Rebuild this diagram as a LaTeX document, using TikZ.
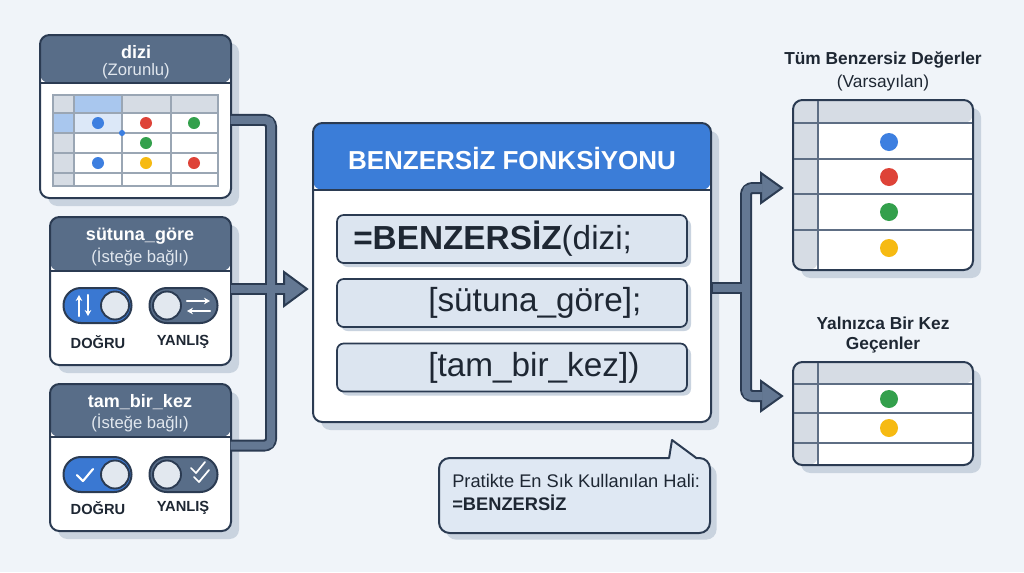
\documentclass[tikz,border=0pt]{standalone}
\usepackage{fontspec}
\setmainfont{Liberation Sans}
\usetikzlibrary{calc,arrows.meta}
\definecolor{bg}{HTML}{F0F4F9}
\definecolor{ink}{HTML}{2B3B52}
\definecolor{slate}{HTML}{586D88}
\definecolor{pipec}{HTML}{647893}
\definecolor{blueH}{HTML}{3B7DD8}
\definecolor{shad}{HTML}{C9D3DF}
\definecolor{rowfill}{HTML}{DCE5F0}
\definecolor{callfill}{HTML}{DFE8F3}
\definecolor{gcell}{HTML}{D6DCE4}
\definecolor{lcell}{HTML}{A9C7EE}
\definecolor{tcell}{HTML}{DCE8F8}
\definecolor{gline}{HTML}{9AA6B4}
\definecolor{vline}{HTML}{5E6E84}
\definecolor{knob}{HTML}{E2E8EF}
\definecolor{tgblue}{HTML}{3A78D2}
\definecolor{dBlue}{HTML}{3D7FE0}
\definecolor{dRed}{HTML}{DE4338}
\definecolor{dGreen}{HTML}{33A04C}
\definecolor{dYellow}{HTML}{F6BA12}
\definecolor{txt}{HTML}{1E2733}
\definecolor{subtxt}{HTML}{E1E7EE}
\newcommand\fsz[2]{\fontsize{#1}{#2}\selectfont}
\tikzset{
  shadowed/.style={preaction={fill=shad, transform canvas={shift={(#1,-#1)}}}},
  panel/.style n args={2}{draw=ink, line width=1.5pt, fill=white, rounded corners=7pt, shadowed=6pt, inner sep=0pt,
    path picture={\fill[#2] (path picture bounding box.north west) rectangle ([yshift=-#1]path picture bounding box.north east);
      \draw[ink, line width=1.5pt] ([yshift=-#1]path picture bounding box.north west) -- ([yshift=-#1]path picture bounding box.north east);}},
  tablebox/.style={draw=ink, line width=1.5pt, fill=white, rounded corners=7pt, shadowed=6pt, inner sep=0pt,
    path picture={\fill[gcell] (path picture bounding box.north west) rectangle ([yshift=-#1]path picture bounding box.north east);
      \fill[gcell] (path picture bounding box.north west) rectangle ([xshift=18.75pt]path picture bounding box.south west);}},
  rowbox/.style={draw=ink, line width=1.3pt, fill=rowfill, rounded corners=5pt, shadowed=3pt, minimum width=262.5pt, minimum height=36pt, inner sep=0pt},
  hdrtitle/.style={text=white, font=\fsz{13.5pt}{16pt}\bfseries, inner sep=0pt},
  hdrsub/.style={text=subtxt, font=\fsz{12.5pt}{15pt}, inner sep=0pt},
  toggle/.style={draw=ink, line width=1.5pt, rounded corners=13pt, minimum width=51pt, minimum height=26.25pt, inner sep=0pt},
  knobc/.style={circle, draw=ink, line width=1.4pt, fill=knob, minimum size=21pt, inner sep=0pt},
  tlabel/.style={text=txt, font=\fsz{11pt}{13pt}\bfseries, inner sep=0pt},
  formula/.style={text=txt, font=\fsz{25pt}{30pt}, anchor=west, inner sep=0pt},
  rtitle/.style={text=txt, font=\fsz{13pt}{16pt}\bfseries, inner sep=0pt},
  rsub/.style={text=txt, font=\fsz{13pt}{16pt}, inner sep=0pt},
  pipeout/.style={draw=ink, line width=9pt, rounded corners=5pt},
  pipein/.style={draw=pipec, line width=6pt, rounded corners=4pt},
  ahead/.style={fill=pipec, draw=ink, line width=1.5pt, line join=miter},
  icon/.style={white, line width=1.6pt, line cap=round, line join=round},
}
\begin{document}
\begin{tikzpicture}[x=0.75pt,y=-0.75pt]
\fill[bg] (0,0) rectangle (1024,572);
\useasboundingbox (0,0) rectangle (1024,572);

% ---------- dizi panel
\node[panel={36pt}{slate}, minimum width=143.25pt, minimum height=122.25pt] (dizi) at (135.5,116.5) {};
\node[hdrtitle] (diziT) at (136,52) {dizi};
\node[hdrsub] (diziS) at (136,71) {(Zorunlu)};
\fill[gcell] (53,95) rectangle (218,113);
\fill[gcell] (53,113) rectangle (74,186);
\fill[lcell] (74,95) rectangle (122,113);
\fill[lcell] (53,113) rectangle (74,133);
\fill[tcell] (74,113) rectangle (122,133);
\draw[gline, line width=0.8pt] (53,95) rectangle (218,186);
\foreach \xx in {74,122,171} \draw[gline, line width=0.8pt] (\xx,95) -- (\xx,186);
\foreach \yy in {113,133,153,173} \draw[gline, line width=0.8pt] (53,\yy) -- (218,\yy);
\fill[dBlue] (98,123) circle (4.5pt);
\fill[dRed] (146,123) circle (4.5pt);
\fill[dGreen] (194,123) circle (4.5pt);
\fill[dGreen] (146,143) circle (4.5pt);
\fill[dBlue] (98,163) circle (4.5pt);
\fill[dYellow] (146,163) circle (4.5pt);
\fill[dRed] (194,163) circle (4.5pt);
\fill[dBlue] (122,133) circle (2.3pt);

% ---------- sutuna_gore panel
\node[panel={40.5pt}{slate}, minimum width=135.75pt, minimum height=111pt] (sutuna) at (140.5,291) {};
\node[hdrtitle] (sutunaT) at (140,236) {sütuna\_göre};
\node[hdrsub] (sutunaS) at (140,257) {(İsteğe bağlı)};
\node[toggle, fill=tgblue] (t2a) at (97.5,305.5) {};
\node[knobc] (k2a) at (115,305.5) {};
\draw[icon, -{Stealth[length=4.5pt,width=5pt]}] (79,316) -- (79,295);
\draw[icon, -{Stealth[length=4.5pt,width=5pt]}] (88,295) -- (88,316);
\node[toggle, fill=slate] (t2b) at (183.5,305.5) {};
\node[knobc] (k2b) at (167,305.5) {};
\draw[icon, -{Stealth[length=4.5pt,width=5pt]}] (187,301) -- (210,301);
\draw[icon, -{Stealth[length=4.5pt,width=5pt]}] (210,311) -- (187,311);
\node[tlabel] (d2) at (98,342) {DOĞRU};
\node[tlabel] (y2) at (183,342) {YANLIŞ};

% ---------- tam_bir_kez panel
\node[panel={39.75pt}{slate}, minimum width=135.75pt, minimum height=110.25pt] (tam) at (140.5,457.5) {};
\node[hdrtitle] (tamT) at (140,402) {tam\_bir\_kez};
\node[hdrsub] (tamS) at (140,423) {(İsteğe bağlı)};
\node[toggle, fill=tgblue] (t3a) at (97.5,474.5) {};
\node[knobc] (k3a) at (115,474.5) {};
\draw[icon] (77,475) -- (83,481) -- (93,469);
\node[toggle, fill=slate] (t3b) at (183.5,474.5) {};
\node[knobc] (k3b) at (167,474.5) {};
\draw[icon, line width=1.3pt] (191,468) -- (196,473) -- (205,462);
\draw[icon, line width=1.3pt] (194,477) -- (199,482) -- (209,470);
\node[tlabel] (d3) at (98,508) {DOĞRU};
\node[tlabel] (y3) at (183,508) {YANLIŞ};

% ---------- central panel
\node[panel={50.25pt}{blueH}, minimum width=298.5pt, minimum height=224.25pt] (fonk) at (512,272.5) {};
\node[text=white, font=\fsz{19.5pt}{23pt}\bfseries, inner sep=0pt] (fonkT) at (512,158) {BENZERSİZ FONKSİYONU};
\node[rowbox] (r1) at (512,239) {};
\node[rowbox] (r2) at (512,303) {};
\node[rowbox] (r3) at (512,367.5) {};
\node[formula] (f1) at (353,239) {\bfseries =BENZERSİZ\mdseries(dizi;};
\node[formula] (f2) at (428,303) {[sütuna\_göre];};
\node[formula] (f3) at (428,367.5) {[tam\_bir\_kez])};

% ---------- callout
\node[draw=ink, line width=1.5pt, fill=callfill, rounded corners=8pt, shadowed=5pt, minimum width=203.25pt, minimum height=56.25pt, inner sep=0pt] (call) at (574.5,495.5) {};
\fill[callfill] (669,461) -- (672,440) -- (699,461) -- cycle;
\draw[ink, line width=1.5pt, line join=round] (669,458.5) -- (672,440) -- (697,458.5);
\node[text=txt, font=\fsz{13.7pt}{16pt}, anchor=west, inner sep=0pt] (callA) at (452,481) {Pratikte En Sık Kullanılan Hali:};
\node[text=txt, font=\fsz{13.7pt}{16pt}\bfseries, anchor=west, inner sep=0pt] (callB) at (452,503) {=BENZERSİZ};

% ---------- right tables
\node[rtitle] (tumT) at (883,60) {Tüm Benzersiz Değerler};
\node[rsub] (tumS) at (883,83) {(Varsayılan)};
\node[tablebox=17.25pt, minimum width=135pt, minimum height=127.5pt] (tum) at (883,185) {};
\foreach \yy in {123,159,194,230} \draw[vline, line width=0.9pt] (794,\yy) -- (972,\yy);
\draw[vline, line width=0.9pt] (818,101) -- (818,269);
\fill[dBlue] (889,142) circle (6.75pt);
\fill[dRed] (889,177) circle (6.75pt);
\fill[dGreen] (889,212) circle (6.75pt);
\fill[dYellow] (889,248) circle (6.75pt);

\node[rtitle] (yalT) at (883,323) {Yalnızca Bir Kez};
\node[rtitle] (yalT2) at (883,345) {Geçenler};
\node[tablebox=16.5pt, minimum width=135pt, minimum height=77.25pt] (yal) at (883,413.5) {};
\foreach \yy in {384,413,443} \draw[vline, line width=0.9pt] (794,\yy) -- (972,\yy);
\draw[vline, line width=0.9pt] (818,363) -- (818,464);
\fill[dGreen] (889,399) circle (6.75pt);
\fill[dYellow] (889,428) circle (6.75pt);

% ---------- connectors
\coordinate (vL) at (271,289);
\coordinate (a1) at ([yshift=-2.6pt]dizi.east);
\coordinate (a2) at ([yshift=9pt]tam.east);
\coordinate (a3) at ([yshift=1.5pt]sutuna.east);
\path (a3 -| fonk.west) coordinate (fa3);
\coordinate (tipL) at ([xshift=-3.75pt]fa3);

\coordinate (vR) at (746,288);
\coordinate (b1) at ([yshift=-11.6pt]fonk.east);
\coordinate (b2) at ([yshift=-2.25pt]tum.west);
\coordinate (b3) at ([yshift=13.1pt]yal.west);
\coordinate (tipT) at ([xshift=-7.5pt]b2);
\coordinate (tipB) at ([xshift=-7.5pt]b3);

% outlines
\draw[pipeout] (a1) -- (a1 -| vL) -- (a2 -| vL) -- (a2);
\draw[pipeout] (a3) -- ($(tipL)+(-20,0)$);
\draw[pipeout] (b1) -- (b1 -| vR);
\draw[pipeout] ($(tipT)+(-18,0)$) -- (b2 -| vR) -- (b3 -| vR) -- ($(tipB)+(-18,0)$);
% heads
\filldraw[ahead] (tipL) -- ($(tipL)+(-23,-17)$) -- ($(tipL)+(-23,17)$) -- cycle;
\filldraw[ahead] (tipT) -- ($(tipT)+(-21,-15)$) -- ($(tipT)+(-21,15)$) -- cycle;
\filldraw[ahead] (tipB) -- ($(tipB)+(-21,-15)$) -- ($(tipB)+(-21,15)$) -- cycle;
% inner
\draw[pipein] ([xshift=-1pt]a1) -- (a1 -| vL) -- (a2 -| vL) -- ([xshift=-1pt]a2);
\draw[pipein] ([xshift=-1pt]a3) -- ($(tipL)+(-21.5,0)$);
\draw[pipein] ([xshift=1pt]b1) -- (b1 -| vR);
\draw[pipein] ($(tipT)+(-19.5,0)$) -- (b2 -| vR) -- (b3 -| vR) -- ($(tipB)+(-19.5,0)$);
\end{tikzpicture}
\end{document}
